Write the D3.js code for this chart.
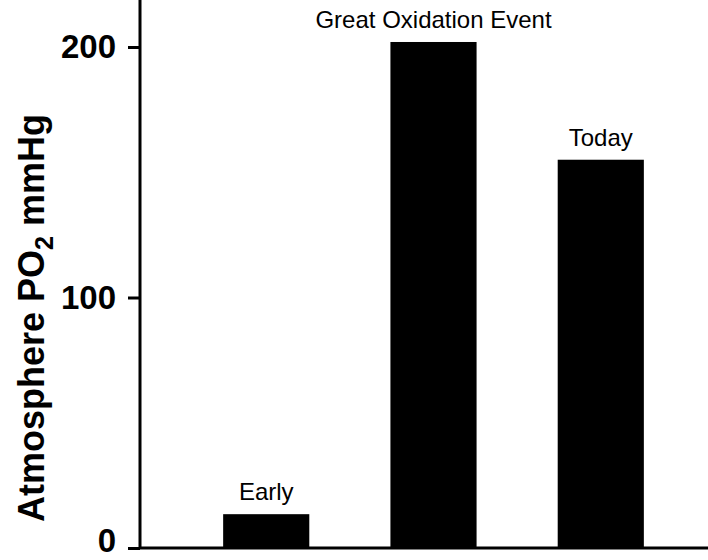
<!DOCTYPE html>
<html lang="en">
<head>
<meta charset="UTF-8">
<script src="https://cdn.jsdelivr.net/npm/d3@7"></script>
<style>
  body { margin: 0; background: #fff; }
  text { font-family: "Liberation Sans", Arial, sans-serif; }
</style>
</head>
<body>
<div id="chart"></div>
<script>
// data
var categories = ["Early", "Great Oxidation Event", "Today"];
var values = [13.5, 202, 155];
var tickValues = [0, 100, 200];

var W = 708, H = 560;
var svg = d3.select("#chart").append("svg")
    .attr("width", W).attr("height", H);

var y = d3.scaleLinear().domain([0, 200]).range([548, 47]);
var x = d3.scaleBand().domain(categories)
    .range([183, 684]).paddingInner(0.485).paddingOuter(0.24);

// bars
svg.selectAll("rect.bar")
    .data(categories)
    .enter().append("rect")
    .attr("class", "bar")
    .attr("x", function (d) { return x(d); })
    .attr("width", x.bandwidth())
    .attr("y", function (d, i) { return y(values[i]); })
    .attr("height", function (d, i) { return y(0) - y(values[i]); })
    .attr("fill", "#000");

// bar labels
svg.selectAll("text.lab")
    .data(categories)
    .enter().append("text")
    .attr("class", "lab")
    .attr("x", function (d) { return x(d) + x.bandwidth() / 2; })
    .attr("y", function (d, i) { return y(values[i]) - 14; })
    .attr("text-anchor", "middle")
    .attr("font-size", 24)
    .text(function (d) { return d; });

// y axis
var yAxis = svg.append("g")
    .attr("transform", "translate(140,0)")
    .call(d3.axisLeft(y).tickValues(tickValues).tickSize(12).tickSizeOuter(0));
yAxis.select(".domain").remove();
yAxis.selectAll(".tick line").attr("stroke-width", 3);
yAxis.selectAll(".tick text")
    .attr("font-size", 33).attr("font-weight", "bold")
    .attr("font-family", "Liberation Sans, Arial, sans-serif")
    .attr("x", -24)
    .attr("dy", function (d) { return d === 0 ? "0.1em" : "0.32em"; });

// axis lines
svg.append("line").attr("x1", 140).attr("x2", 140).attr("y1", 0).attr("y2", 549)
    .attr("stroke", "#000").attr("stroke-width", 3);
svg.append("line").attr("x1", 139).attr("x2", 708).attr("y1", 548).attr("y2", 548)
    .attr("stroke", "#000").attr("stroke-width", 3);

// y title
var t = svg.append("text")
    .attr("transform", "translate(44,318) rotate(-90)")
    .attr("text-anchor", "middle")
    .attr("font-size", 36).attr("font-weight", "bold");
t.append("tspan").text("Atmosphere PO");
t.append("tspan").attr("font-size", 25).attr("dy", 9).text("2");
t.append("tspan").attr("dy", -9).text(" mmHg");
</script>
</body>
</html>
